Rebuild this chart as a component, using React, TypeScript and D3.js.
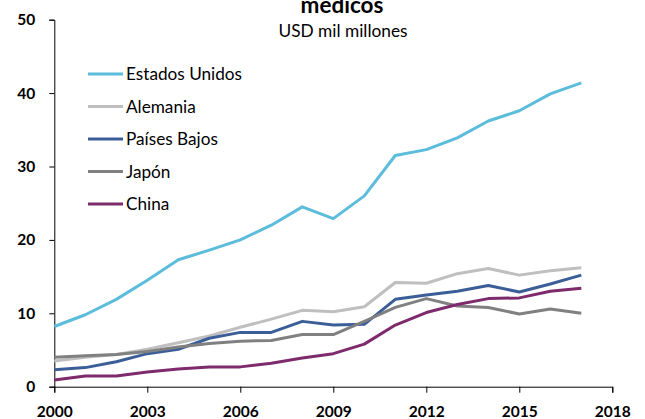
import { useEffect, useRef } from 'react'
import * as d3 from 'd3'

const years = d3.range(2000, 2018)
const seriesNames = ['Estados Unidos', 'Alemania', 'Países Bajos', 'Japón', 'China']
const seriesColors = ['#5BBCDB', '#BFBFBF', '#3B5E98', '#808080', '#7E2B6D']

const estadosUnidos = [8.2, 9.8, 11.9, 14.5, 17.3, 18.6, 20.0, 22.0, 24.5, 22.9, 26.0, 31.5, 32.3, 33.9, 36.2, 37.6, 39.9, 41.4]
const alemania = [3.5, 4.0, 4.4, 5.1, 6.0, 6.9, 8.1, 9.2, 10.4, 10.2, 10.9, 14.2, 14.1, 15.4, 16.1, 15.2, 15.8, 16.2]
const paisesBajos = [2.3, 2.6, 3.4, 4.5, 5.1, 6.6, 7.4, 7.4, 8.9, 8.4, 8.5, 11.9, 12.5, 13.0, 13.8, 12.9, 14.0, 15.2]
const japon = [4.0, 4.2, 4.4, 4.8, 5.4, 5.9, 6.2, 6.3, 7.1, 7.1, 8.9, 10.8, 12.0, 11.0, 10.8, 9.9, 10.6, 10.0]
const china = [0.9, 1.45, 1.45, 2.0, 2.4, 2.7, 2.7, 3.2, 3.9, 4.5, 5.8, 8.4, 10.1, 11.2, 12.0, 12.1, 13.0, 13.4]

const xTicks = [2000, 2003, 2006, 2009, 2012, 2015, 2018]
const yTicks = [0, 10, 20, 30, 40, 50]

const title = 'médicos'
const subtitle = 'USD mil millones'

const font = 'Lato, "Open Sans", sans-serif'

const App = () => {
  const svgRef = useRef(null)
  const width = 645
  const height = 419

  useEffect(() => {
    const values = [estadosUnidos, alemania, paisesBajos, japon, china]

    const x = d3.scaleLinear([2000, 2018], [54.3, 612.3])
    const y = d3.scaleLinear([0, 50], [386.7, 19.7])

    const svg = d3.select(svgRef.current)
    svg.selectAll('*').remove()

    // title, its top is cut by the edge as in the source
    svg
      .append('text')
      .attr('x', 342)
      .attr('y', 13.3)
      .attr('text-anchor', 'middle')
      .style('font-family', font)
      .style('font-weight', '700')
      .style('font-size', '22.5px')
      .style('fill', '#000')
      .text(title)
    svg
      .append('text')
      .attr('x', 343)
      .attr('y', 37.3)
      .attr('text-anchor', 'middle')
      .style('font-family', font)
      .style('font-size', '17.3px')
      .style('fill', '#000')
      .text(subtitle)

    // y axis
    svg
      .append('g')
      .attr('transform', `translate(${x(2000)},0)`)
      .call(d3.axisLeft(y).tickValues(yTicks).tickSizeOuter(0).tickSize(5).tickPadding(14))
      .call((g) => g.select('.domain').attr('stroke', '#000'))
      .call((g) => g.selectAll('.tick line').attr('stroke', '#000'))
      .call((g) =>
        g
          .selectAll('.tick text')
          .attr('fill', '#000')
          .style('font-family', font)
          .style('font-weight', '700')
          .style('font-size', '15.5px')
      )

    // x axis
    svg
      .append('g')
      .attr('transform', `translate(0,${y(0)})`)
      .call(d3.axisBottom(x).tickValues(xTicks).tickFormat(d3.format('d')).tickSizeOuter(0).tickSize(6).tickPadding(13.5))
      .call((g) => g.select('.domain').attr('stroke', '#000'))
      .call((g) => g.selectAll('.tick line').attr('stroke', '#000'))
      .call((g) =>
        g
          .selectAll('.tick text')
          .attr('fill', '#000')
          .style('font-family', font)
          .style('font-weight', '700')
          .style('font-size', '15.5px')
      )

    // lines
    const line = d3
      .line()
      .x((d, i) => x(years[i]))
      .y((d) => y(d))

    svg
      .append('g')
      .selectAll('path')
      .data(values)
      .join('path')
      .attr('d', (d) => line(d))
      .attr('fill', 'none')
      .attr('stroke', (d, i) => seriesColors[i])
      .attr('stroke-width', 3)
      .attr('stroke-linejoin', 'round')

    // legend
    const legend = svg
      .append('g')
      .selectAll('g')
      .data(seriesNames)
      .join('g')
      .attr('transform', (d, i) => `translate(88,${74 + i * 32.5})`)
    legend
      .append('line')
      .attr('x1', 0)
      .attr('x2', 35)
      .attr('stroke', (d, i) => seriesColors[i])
      .attr('stroke-width', 3)
    legend
      .append('text')
      .attr('x', 38)
      .attr('dy', '0.35em')
      .style('font-family', font)
      .style('font-size', '17.2px')
      .style('fill', '#000')
      .text((d) => d)
  }, [])

  return <svg ref={svgRef} width={width} height={height} style={{ position: 'absolute', left: 0, top: 0 }} />
}

export default App
